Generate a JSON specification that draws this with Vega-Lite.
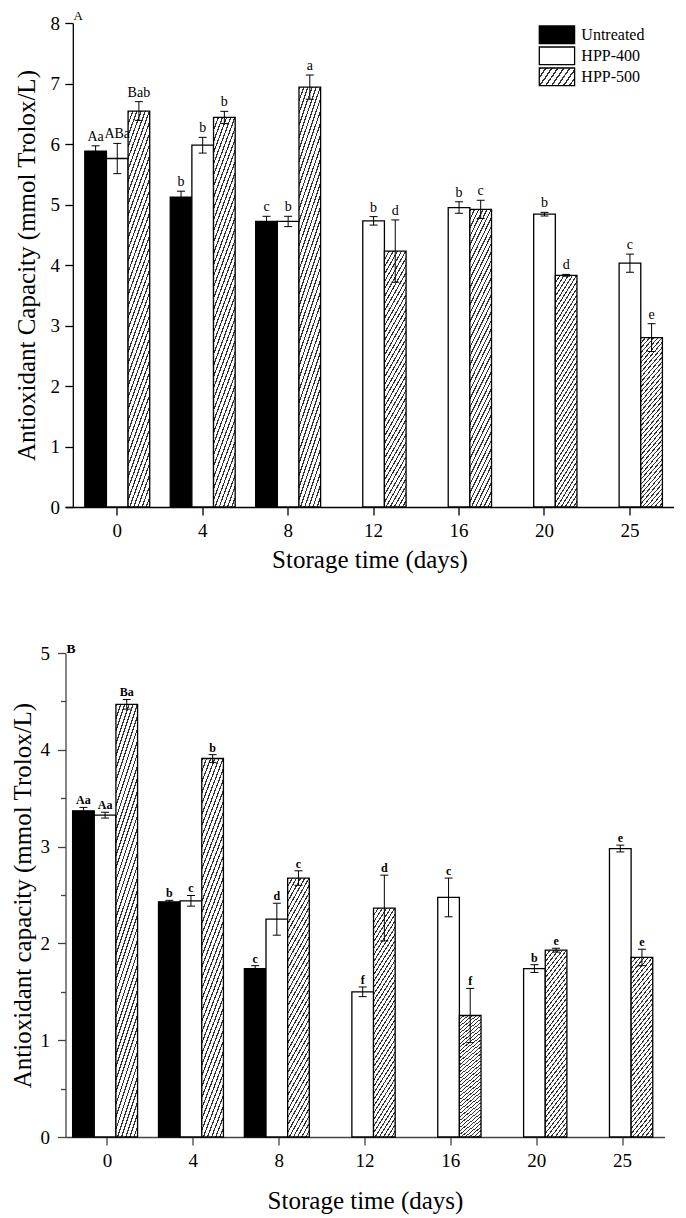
{
  "$schema": "https://vega.github.io/schema/vega-lite/v6.json",
  "padding": {"left": 9.5, "top": 10, "right": 5, "bottom": 5},
  "spacing": 69,
  "config": {
    "view": {"stroke": null},
    "font": "Liberation Serif",
    "axis": {"labelFont": "Liberation Serif", "titleFont": "Liberation Serif", "labelColor": "#000", "titleColor": "#000", "titleFontWeight": "normal", "domainColor": "#000", "tickColor": "#000", "domainWidth": 1.3, "tickWidth": 1.3, "grid": false, "labelFontSize": 19, "titleFontSize": 25},
    "title": {"font": "Liberation Serif", "color": "#000"}
  },
  "resolve": {"scale": {"fill": "independent"}, "legend": {"fill": "independent"}},
  "datasets": {
    "a": [
      {"day": 0, "treatment": "Untreated", "value": 5.88, "lo": 5.79, "hi": 5.97, "label": "Aa"},
      {"day": 0, "treatment": "HPP-400", "value": 5.76, "lo": 5.51, "hi": 6.01, "label": "ABa"},
      {"day": 0, "treatment": "HPP-500", "value": 6.545, "lo": 6.39, "hi": 6.70, "label": "Bab"},
      {"day": 4, "treatment": "Untreated", "value": 5.12, "lo": 5.02, "hi": 5.22, "label": "b"},
      {"day": 4, "treatment": "HPP-400", "value": 5.98, "lo": 5.85, "hi": 6.11, "label": "b"},
      {"day": 4, "treatment": "HPP-500", "value": 6.44, "lo": 6.34, "hi": 6.54, "label": "b"},
      {"day": 8, "treatment": "Untreated", "value": 4.72, "lo": 4.635, "hi": 4.805, "label": "c"},
      {"day": 8, "treatment": "HPP-400", "value": 4.72, "lo": 4.635, "hi": 4.805, "label": "b"},
      {"day": 8, "treatment": "HPP-500", "value": 6.94, "lo": 6.74, "hi": 7.14, "label": "a"},
      {"day": 12, "treatment": "HPP-400", "value": 4.73, "lo": 4.66, "hi": 4.80, "label": "b"},
      {"day": 12, "treatment": "HPP-500", "value": 4.23, "lo": 3.715, "hi": 4.745, "label": "d"},
      {"day": 16, "treatment": "HPP-400", "value": 4.95, "lo": 4.855, "hi": 5.045, "label": "b"},
      {"day": 16, "treatment": "HPP-500", "value": 4.92, "lo": 4.77, "hi": 5.07, "label": "c"},
      {"day": 20, "treatment": "HPP-400", "value": 4.84, "lo": 4.81, "hi": 4.87, "label": "b"},
      {"day": 20, "treatment": "HPP-500", "value": 3.83, "lo": 3.815, "hi": 3.845, "label": "d"},
      {"day": 25, "treatment": "HPP-400", "value": 4.03, "lo": 3.88, "hi": 4.18, "label": "c"},
      {"day": 25, "treatment": "HPP-500", "value": 2.80, "lo": 2.57, "hi": 3.03, "label": "e"}
    ],
    "b": [
      {"day": 0, "treatment": "Untreated", "value": 3.37, "lo": 3.335, "hi": 3.405, "label": "Aa"},
      {"day": 0, "treatment": "HPP-400", "value": 3.325, "lo": 3.295, "hi": 3.355, "label": "Aa"},
      {"day": 0, "treatment": "HPP-500", "value": 4.47, "lo": 4.42, "hi": 4.52, "label": "Ba"},
      {"day": 4, "treatment": "Untreated", "value": 2.43, "lo": 2.415, "hi": 2.445, "label": "b"},
      {"day": 4, "treatment": "HPP-400", "value": 2.44, "lo": 2.385, "hi": 2.495, "label": "c"},
      {"day": 4, "treatment": "HPP-500", "value": 3.91, "lo": 3.87, "hi": 3.95, "label": "b"},
      {"day": 8, "treatment": "Untreated", "value": 1.74, "lo": 1.71, "hi": 1.77, "label": "c"},
      {"day": 8, "treatment": "HPP-400", "value": 2.25, "lo": 2.085, "hi": 2.415, "label": "d"},
      {"day": 8, "treatment": "HPP-500", "value": 2.675, "lo": 2.60, "hi": 2.75, "label": "c"},
      {"day": 12, "treatment": "HPP-400", "value": 1.50, "lo": 1.45, "hi": 1.55, "label": "f"},
      {"day": 12, "treatment": "HPP-500", "value": 2.365, "lo": 2.025, "hi": 2.705, "label": "d"},
      {"day": 16, "treatment": "HPP-400", "value": 2.475, "lo": 2.275, "hi": 2.675, "label": "c"},
      {"day": 16, "treatment": "HPP-500", "value": 1.255, "lo": 0.975, "hi": 1.535, "label": "f"},
      {"day": 20, "treatment": "HPP-400", "value": 1.74, "lo": 1.70, "hi": 1.78, "label": "b"},
      {"day": 20, "treatment": "HPP-500", "value": 1.93, "lo": 1.91, "hi": 1.95, "label": "e"},
      {"day": 25, "treatment": "HPP-400", "value": 2.98, "lo": 2.945, "hi": 3.015, "label": "e"},
      {"day": 25, "treatment": "HPP-500", "value": 1.855, "lo": 1.77, "hi": 1.94, "label": "e"}
    ]
  },
  "vconcat": [
    {
      "width": 608,
      "height": 484,
      "title": {"text": "A", "anchor": "start", "frame": "group", "fontSize": 13, "fontWeight": "normal", "dx": 8, "offset": -9},
      "data": {"name": "a"},
      "encoding": {
        "x": {"field": "day", "type": "ordinal", "scale": {"paddingInner": 0.24, "paddingOuter": 0.1777, "align": 0.635},
          "axis": {"title": "Storage time (days)", "labelAngle": 0, "tickSize": 8, "labelPadding": 6, "titlePadding": 7}},
        "xOffset": {"field": "treatment", "type": "nominal", "scale": {"domain": ["Untreated", "HPP-400", "HPP-500"], "paddingInner": 0, "paddingOuter": 0}}
      },
      "layer": [
        {
          "transform": [{"filter": "false"}],
          "mark": {"type": "bar", "stroke": "#000", "strokeWidth": 1.3, "opacity": 1},
          "encoding": {
            "y": {"field": "value", "type": "quantitative", "stack": null},
            "fill": {"field": "treatment", "type": "nominal",
              "scale": {"domain": ["Untreated", "HPP-400", "HPP-500"],
                "range": ["#000", "#fff", {"expr": "{gradient: 'linear', x1: 0, y1: 0, x2: 1.2027, y2: 0.421, stops: [{offset: 0, color: '#333'}, {offset: 0.035, color: '#333'}, {offset: 0.035, color: '#fff'}, {offset: 0.125, color: '#fff'}, {offset: 0.125, color: '#333'}, {offset: 0.16, color: '#333'}, {offset: 0.16, color: '#fff'}, {offset: 0.25, color: '#fff'}, {offset: 0.25, color: '#333'}, {offset: 0.285, color: '#333'}, {offset: 0.285, color: '#fff'}, {offset: 0.375, color: '#fff'}, {offset: 0.375, color: '#333'}, {offset: 0.41, color: '#333'}, {offset: 0.41, color: '#fff'}, {offset: 0.5, color: '#fff'}, {offset: 0.5, color: '#333'}, {offset: 0.535, color: '#333'}, {offset: 0.535, color: '#fff'}, {offset: 0.625, color: '#fff'}, {offset: 0.625, color: '#333'}, {offset: 0.66, color: '#333'}, {offset: 0.66, color: '#fff'}, {offset: 0.75, color: '#fff'}, {offset: 0.75, color: '#333'}, {offset: 0.785, color: '#333'}, {offset: 0.785, color: '#fff'}, {offset: 0.875, color: '#fff'}, {offset: 0.875, color: '#333'}, {offset: 0.91, color: '#333'}, {offset: 0.91, color: '#fff'}, {offset: 1, color: '#fff'}]}"}]},
              "legend": {"orient": "none", "legendX": 473.8, "legendY": 2.3, "title": null, "padding": 0,
                "symbolType": "M-2,-1H2V1H-2Z", "symbolSize": 311.5, "symbolStrokeColor": "#000", "symbolStrokeWidth": 1.3, "symbolOffset": 8.15,
                "labelFont": "Liberation Serif", "labelFontSize": 16, "labelColor": "#000", "labelOffset": 14.9, "rowPadding": -4.5}}
          }
        },
        {
          "mark": {"type": "bar", "stroke": "#000", "strokeWidth": 1.3, "opacity": 1},
          "encoding": {
            "y": {"field": "value", "type": "quantitative", "stack": null, "scale": {"domain": [0, 8], "nice": false},
              "axis": {"title": "Antioxidant Capacity (mmol Trolox/L)", "values": [0, 0.5, 1, 1.5, 2, 2.5, 3, 3.5, 4, 4.5, 5, 5.5, 6, 6.5, 7, 7.5, 8],
                "labelExpr": "datum.value % 1 === 0 ? format(datum.value, 'd') : ''",
                "tickSize": {"condition": {"test": "datum.value % 1 === 0", "value": 8}, "value": 5},
                "labelPadding": 5.3, "titlePadding": 10.7, "offset": -7.3}},
            "fill": {"condition": [
              {"test": "datum.treatment === 'HPP-500'", "value": {"gradient": "linear", "x1": 0, "y1": 0, "x2": 0.1687, "y2": 1.1247, "stops": [
{"offset":0,"color":"#333"},{"offset":0.0075,"color":"#333"},{"offset":0.0075,"color":"#fff"},{"offset":0.025,"color":"#fff"},
{"offset":0.025,"color":"#333"},{"offset":0.0325,"color":"#333"},{"offset":0.0325,"color":"#fff"},{"offset":0.05,"color":"#fff"},
{"offset":0.05,"color":"#333"},{"offset":0.0575,"color":"#333"},{"offset":0.0575,"color":"#fff"},{"offset":0.075,"color":"#fff"},
{"offset":0.075,"color":"#333"},{"offset":0.0825,"color":"#333"},{"offset":0.0825,"color":"#fff"},{"offset":0.1,"color":"#fff"},
{"offset":0.1,"color":"#333"},{"offset":0.1075,"color":"#333"},{"offset":0.1075,"color":"#fff"},{"offset":0.125,"color":"#fff"},
{"offset":0.125,"color":"#333"},{"offset":0.1325,"color":"#333"},{"offset":0.1325,"color":"#fff"},{"offset":0.15,"color":"#fff"},
{"offset":0.15,"color":"#333"},{"offset":0.1575,"color":"#333"},{"offset":0.1575,"color":"#fff"},{"offset":0.175,"color":"#fff"},
{"offset":0.175,"color":"#333"},{"offset":0.1825,"color":"#333"},{"offset":0.1825,"color":"#fff"},{"offset":0.2,"color":"#fff"},
{"offset":0.2,"color":"#333"},{"offset":0.2075,"color":"#333"},{"offset":0.2075,"color":"#fff"},{"offset":0.225,"color":"#fff"},
{"offset":0.225,"color":"#333"},{"offset":0.2325,"color":"#333"},{"offset":0.2325,"color":"#fff"},{"offset":0.25,"color":"#fff"},
{"offset":0.25,"color":"#333"},{"offset":0.2575,"color":"#333"},{"offset":0.2575,"color":"#fff"},{"offset":0.275,"color":"#fff"},
{"offset":0.275,"color":"#333"},{"offset":0.2825,"color":"#333"},{"offset":0.2825,"color":"#fff"},{"offset":0.3,"color":"#fff"},
{"offset":0.3,"color":"#333"},{"offset":0.3075,"color":"#333"},{"offset":0.3075,"color":"#fff"},{"offset":0.325,"color":"#fff"},
{"offset":0.325,"color":"#333"},{"offset":0.3325,"color":"#333"},{"offset":0.3325,"color":"#fff"},{"offset":0.35,"color":"#fff"},
{"offset":0.35,"color":"#333"},{"offset":0.3575,"color":"#333"},{"offset":0.3575,"color":"#fff"},{"offset":0.375,"color":"#fff"},
{"offset":0.375,"color":"#333"},{"offset":0.3825,"color":"#333"},{"offset":0.3825,"color":"#fff"},{"offset":0.4,"color":"#fff"},
{"offset":0.4,"color":"#333"},{"offset":0.4075,"color":"#333"},{"offset":0.4075,"color":"#fff"},{"offset":0.425,"color":"#fff"},
{"offset":0.425,"color":"#333"},{"offset":0.4325,"color":"#333"},{"offset":0.4325,"color":"#fff"},{"offset":0.45,"color":"#fff"},
{"offset":0.45,"color":"#333"},{"offset":0.4575,"color":"#333"},{"offset":0.4575,"color":"#fff"},{"offset":0.475,"color":"#fff"},
{"offset":0.475,"color":"#333"},{"offset":0.4825,"color":"#333"},{"offset":0.4825,"color":"#fff"},{"offset":0.5,"color":"#fff"},
{"offset":0.5,"color":"#333"},{"offset":0.5075,"color":"#333"},{"offset":0.5075,"color":"#fff"},{"offset":0.525,"color":"#fff"},
{"offset":0.525,"color":"#333"},{"offset":0.5325,"color":"#333"},{"offset":0.5325,"color":"#fff"},{"offset":0.55,"color":"#fff"},
{"offset":0.55,"color":"#333"},{"offset":0.5575,"color":"#333"},{"offset":0.5575,"color":"#fff"},{"offset":0.575,"color":"#fff"},
{"offset":0.575,"color":"#333"},{"offset":0.5825,"color":"#333"},{"offset":0.5825,"color":"#fff"},{"offset":0.6,"color":"#fff"},
{"offset":0.6,"color":"#333"},{"offset":0.6075,"color":"#333"},{"offset":0.6075,"color":"#fff"},{"offset":0.625,"color":"#fff"},
{"offset":0.625,"color":"#333"},{"offset":0.6325,"color":"#333"},{"offset":0.6325,"color":"#fff"},{"offset":0.65,"color":"#fff"},
{"offset":0.65,"color":"#333"},{"offset":0.6575,"color":"#333"},{"offset":0.6575,"color":"#fff"},{"offset":0.675,"color":"#fff"},
{"offset":0.675,"color":"#333"},{"offset":0.6825,"color":"#333"},{"offset":0.6825,"color":"#fff"},{"offset":0.7,"color":"#fff"},
{"offset":0.7,"color":"#333"},{"offset":0.7075,"color":"#333"},{"offset":0.7075,"color":"#fff"},{"offset":0.725,"color":"#fff"},
{"offset":0.725,"color":"#333"},{"offset":0.7325,"color":"#333"},{"offset":0.7325,"color":"#fff"},{"offset":0.75,"color":"#fff"},
{"offset":0.75,"color":"#333"},{"offset":0.7575,"color":"#333"},{"offset":0.7575,"color":"#fff"},{"offset":0.775,"color":"#fff"},
{"offset":0.775,"color":"#333"},{"offset":0.7825,"color":"#333"},{"offset":0.7825,"color":"#fff"},{"offset":0.8,"color":"#fff"},
{"offset":0.8,"color":"#333"},{"offset":0.8075,"color":"#333"},{"offset":0.8075,"color":"#fff"},{"offset":0.825,"color":"#fff"},
{"offset":0.825,"color":"#333"},{"offset":0.8325,"color":"#333"},{"offset":0.8325,"color":"#fff"},{"offset":0.85,"color":"#fff"},
{"offset":0.85,"color":"#333"},{"offset":0.8575,"color":"#333"},{"offset":0.8575,"color":"#fff"},{"offset":0.875,"color":"#fff"},
{"offset":0.875,"color":"#333"},{"offset":0.8825,"color":"#333"},{"offset":0.8825,"color":"#fff"},{"offset":0.9,"color":"#fff"},
{"offset":0.9,"color":"#333"},{"offset":0.9075,"color":"#333"},{"offset":0.9075,"color":"#fff"},{"offset":0.925,"color":"#fff"},
{"offset":0.925,"color":"#333"},{"offset":0.9325,"color":"#333"},{"offset":0.9325,"color":"#fff"},{"offset":0.95,"color":"#fff"},
{"offset":0.95,"color":"#333"},{"offset":0.9575,"color":"#333"},{"offset":0.9575,"color":"#fff"},{"offset":0.975,"color":"#fff"},
{"offset":0.975,"color":"#333"},{"offset":0.9825,"color":"#333"},{"offset":0.9825,"color":"#fff"},{"offset":1,"color":"#fff"}
              ]}},
              {"test": "datum.treatment === 'Untreated'", "value": "#000"}], "value": "#fff"}
          }
        },
        {"mark": {"type": "rule", "color": "#000", "strokeWidth": 1}, "encoding": {"y": {"field": "lo", "type": "quantitative"}, "y2": {"field": "hi"}}},
        {"mark": {"type": "tick", "orient": "horizontal", "size": 8, "thickness": 1, "color": "#000", "opacity": 1}, "encoding": {"y": {"field": "lo", "type": "quantitative"}}},
        {"mark": {"type": "tick", "orient": "horizontal", "size": 8, "thickness": 1, "color": "#000", "opacity": 1}, "encoding": {"y": {"field": "hi", "type": "quantitative"}}},
        {"mark": {"type": "text", "baseline": "alphabetic", "dy": -5, "fontSize": 14, "font": "Liberation Serif", "color": "#000"}, "encoding": {"y": {"field": "hi", "type": "quantitative"}, "text": {"field": "label"}}}
      ]
    },
    {
      "width": 599,
      "height": 484,
      "title": {"text": "B", "anchor": "start", "frame": "group", "fontSize": 13.5, "fontWeight": "bold", "dx": 1, "offset": -11},
      "data": {"name": "b"},
      "encoding": {
        "x": {"field": "day", "type": "ordinal", "scale": {"paddingInner": 0.19, "paddingOuter": 0.083},
          "axis": {"title": "Storage time (days)", "labelAngle": 0, "tickSize": 8, "labelPadding": 6, "titlePadding": 18, "domainColor": "#444", "tickColor": "#444"}},
        "xOffset": {"field": "treatment", "type": "nominal", "scale": {"domain": ["Untreated", "HPP-400", "HPP-500"], "paddingInner": 0, "paddingOuter": 0}}
      },
      "layer": [
        {
          "mark": {"type": "bar", "stroke": "#000", "strokeWidth": 1.3, "opacity": 1},
          "encoding": {
            "y": {"field": "value", "type": "quantitative", "stack": null, "scale": {"domain": [0, 5], "nice": false},
              "axis": {"title": "Antioxidant capacity (mmol Trolox/L)", "values": [0, 0.5, 1, 1.5, 2, 2.5, 3, 3.5, 4, 4.5, 5],
                "labelExpr": "datum.value % 1 === 0 ? format(datum.value, 'd') : ''",
                "tickSize": {"condition": {"test": "datum.value % 1 === 0", "value": 8}, "value": 5},
                "labelPadding": 8, "titlePadding": 4.6, "domainColor": "#444", "tickColor": "#444"}},
            "fill": {"condition": [
              {"test": "datum.treatment === 'HPP-500'", "value": {"gradient": "linear", "x1": 0, "y1": 0, "x2": 0.1687, "y2": 1.1247, "stops": [
{"offset":0,"color":"#333"},{"offset":0.0075,"color":"#333"},{"offset":0.0075,"color":"#fff"},{"offset":0.025,"color":"#fff"},
{"offset":0.025,"color":"#333"},{"offset":0.0325,"color":"#333"},{"offset":0.0325,"color":"#fff"},{"offset":0.05,"color":"#fff"},
{"offset":0.05,"color":"#333"},{"offset":0.0575,"color":"#333"},{"offset":0.0575,"color":"#fff"},{"offset":0.075,"color":"#fff"},
{"offset":0.075,"color":"#333"},{"offset":0.0825,"color":"#333"},{"offset":0.0825,"color":"#fff"},{"offset":0.1,"color":"#fff"},
{"offset":0.1,"color":"#333"},{"offset":0.1075,"color":"#333"},{"offset":0.1075,"color":"#fff"},{"offset":0.125,"color":"#fff"},
{"offset":0.125,"color":"#333"},{"offset":0.1325,"color":"#333"},{"offset":0.1325,"color":"#fff"},{"offset":0.15,"color":"#fff"},
{"offset":0.15,"color":"#333"},{"offset":0.1575,"color":"#333"},{"offset":0.1575,"color":"#fff"},{"offset":0.175,"color":"#fff"},
{"offset":0.175,"color":"#333"},{"offset":0.1825,"color":"#333"},{"offset":0.1825,"color":"#fff"},{"offset":0.2,"color":"#fff"},
{"offset":0.2,"color":"#333"},{"offset":0.2075,"color":"#333"},{"offset":0.2075,"color":"#fff"},{"offset":0.225,"color":"#fff"},
{"offset":0.225,"color":"#333"},{"offset":0.2325,"color":"#333"},{"offset":0.2325,"color":"#fff"},{"offset":0.25,"color":"#fff"},
{"offset":0.25,"color":"#333"},{"offset":0.2575,"color":"#333"},{"offset":0.2575,"color":"#fff"},{"offset":0.275,"color":"#fff"},
{"offset":0.275,"color":"#333"},{"offset":0.2825,"color":"#333"},{"offset":0.2825,"color":"#fff"},{"offset":0.3,"color":"#fff"},
{"offset":0.3,"color":"#333"},{"offset":0.3075,"color":"#333"},{"offset":0.3075,"color":"#fff"},{"offset":0.325,"color":"#fff"},
{"offset":0.325,"color":"#333"},{"offset":0.3325,"color":"#333"},{"offset":0.3325,"color":"#fff"},{"offset":0.35,"color":"#fff"},
{"offset":0.35,"color":"#333"},{"offset":0.3575,"color":"#333"},{"offset":0.3575,"color":"#fff"},{"offset":0.375,"color":"#fff"},
{"offset":0.375,"color":"#333"},{"offset":0.3825,"color":"#333"},{"offset":0.3825,"color":"#fff"},{"offset":0.4,"color":"#fff"},
{"offset":0.4,"color":"#333"},{"offset":0.4075,"color":"#333"},{"offset":0.4075,"color":"#fff"},{"offset":0.425,"color":"#fff"},
{"offset":0.425,"color":"#333"},{"offset":0.4325,"color":"#333"},{"offset":0.4325,"color":"#fff"},{"offset":0.45,"color":"#fff"},
{"offset":0.45,"color":"#333"},{"offset":0.4575,"color":"#333"},{"offset":0.4575,"color":"#fff"},{"offset":0.475,"color":"#fff"},
{"offset":0.475,"color":"#333"},{"offset":0.4825,"color":"#333"},{"offset":0.4825,"color":"#fff"},{"offset":0.5,"color":"#fff"},
{"offset":0.5,"color":"#333"},{"offset":0.5075,"color":"#333"},{"offset":0.5075,"color":"#fff"},{"offset":0.525,"color":"#fff"},
{"offset":0.525,"color":"#333"},{"offset":0.5325,"color":"#333"},{"offset":0.5325,"color":"#fff"},{"offset":0.55,"color":"#fff"},
{"offset":0.55,"color":"#333"},{"offset":0.5575,"color":"#333"},{"offset":0.5575,"color":"#fff"},{"offset":0.575,"color":"#fff"},
{"offset":0.575,"color":"#333"},{"offset":0.5825,"color":"#333"},{"offset":0.5825,"color":"#fff"},{"offset":0.6,"color":"#fff"},
{"offset":0.6,"color":"#333"},{"offset":0.6075,"color":"#333"},{"offset":0.6075,"color":"#fff"},{"offset":0.625,"color":"#fff"},
{"offset":0.625,"color":"#333"},{"offset":0.6325,"color":"#333"},{"offset":0.6325,"color":"#fff"},{"offset":0.65,"color":"#fff"},
{"offset":0.65,"color":"#333"},{"offset":0.6575,"color":"#333"},{"offset":0.6575,"color":"#fff"},{"offset":0.675,"color":"#fff"},
{"offset":0.675,"color":"#333"},{"offset":0.6825,"color":"#333"},{"offset":0.6825,"color":"#fff"},{"offset":0.7,"color":"#fff"},
{"offset":0.7,"color":"#333"},{"offset":0.7075,"color":"#333"},{"offset":0.7075,"color":"#fff"},{"offset":0.725,"color":"#fff"},
{"offset":0.725,"color":"#333"},{"offset":0.7325,"color":"#333"},{"offset":0.7325,"color":"#fff"},{"offset":0.75,"color":"#fff"},
{"offset":0.75,"color":"#333"},{"offset":0.7575,"color":"#333"},{"offset":0.7575,"color":"#fff"},{"offset":0.775,"color":"#fff"},
{"offset":0.775,"color":"#333"},{"offset":0.7825,"color":"#333"},{"offset":0.7825,"color":"#fff"},{"offset":0.8,"color":"#fff"},
{"offset":0.8,"color":"#333"},{"offset":0.8075,"color":"#333"},{"offset":0.8075,"color":"#fff"},{"offset":0.825,"color":"#fff"},
{"offset":0.825,"color":"#333"},{"offset":0.8325,"color":"#333"},{"offset":0.8325,"color":"#fff"},{"offset":0.85,"color":"#fff"},
{"offset":0.85,"color":"#333"},{"offset":0.8575,"color":"#333"},{"offset":0.8575,"color":"#fff"},{"offset":0.875,"color":"#fff"},
{"offset":0.875,"color":"#333"},{"offset":0.8825,"color":"#333"},{"offset":0.8825,"color":"#fff"},{"offset":0.9,"color":"#fff"},
{"offset":0.9,"color":"#333"},{"offset":0.9075,"color":"#333"},{"offset":0.9075,"color":"#fff"},{"offset":0.925,"color":"#fff"},
{"offset":0.925,"color":"#333"},{"offset":0.9325,"color":"#333"},{"offset":0.9325,"color":"#fff"},{"offset":0.95,"color":"#fff"},
{"offset":0.95,"color":"#333"},{"offset":0.9575,"color":"#333"},{"offset":0.9575,"color":"#fff"},{"offset":0.975,"color":"#fff"},
{"offset":0.975,"color":"#333"},{"offset":0.9825,"color":"#333"},{"offset":0.9825,"color":"#fff"},{"offset":1,"color":"#fff"}
              ]}},
              {"test": "datum.treatment === 'Untreated'", "value": "#000"}], "value": "#fff"}
          }
        },
        {"mark": {"type": "rule", "color": "#000", "strokeWidth": 1}, "encoding": {"y": {"field": "lo", "type": "quantitative"}, "y2": {"field": "hi"}}},
        {"mark": {"type": "tick", "orient": "horizontal", "size": 8, "thickness": 1, "color": "#000", "opacity": 1}, "encoding": {"y": {"field": "lo", "type": "quantitative"}}},
        {"mark": {"type": "tick", "orient": "horizontal", "size": 8, "thickness": 1, "color": "#000", "opacity": 1}, "encoding": {"y": {"field": "hi", "type": "quantitative"}}},
        {"mark": {"type": "text", "baseline": "alphabetic", "dy": -3, "fontSize": 12, "fontWeight": "bold", "font": "Liberation Serif", "color": "#000"}, "encoding": {"y": {"field": "hi", "type": "quantitative"}, "text": {"field": "label"}}}
      ]
    }
  ]
}
